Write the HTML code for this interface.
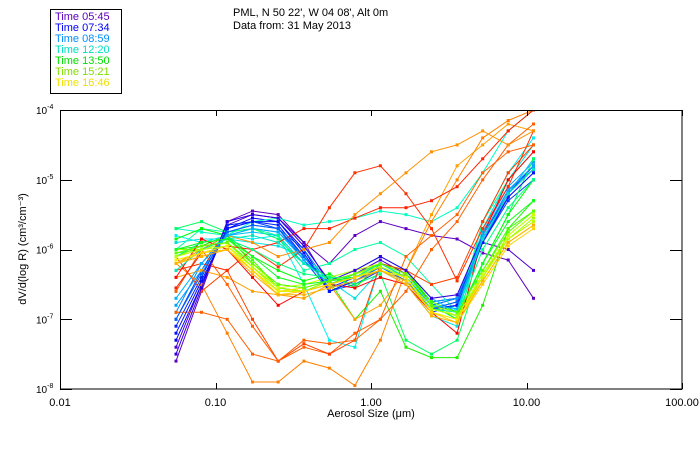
<!DOCTYPE html>
<html><head><meta charset="utf-8"><style>
body{margin:0;background:#fff;}
svg{display:block;font-family:"Liberation Sans",sans-serif;}
</style></head><body>
<svg id="chart" width="700" height="450" viewBox="0 0 700 450">
<rect x="0" y="0" width="700" height="450" fill="#fff"/>
<g>
<rect x="50.5" y="9.5" width="71" height="84" fill="#fff" stroke="#000"/>
<g font-size="11">
<text x="55" y="20" fill="#6000c0">Time 05:45</text>
<text x="55" y="31" fill="#0000ff">Time 07:34</text>
<text x="55" y="42" fill="#0090ff">Time 08:59</text>
<text x="55" y="53" fill="#00e0c0">Time 12:20</text>
<text x="55" y="64" fill="#00e000">Time 13:50</text>
<text x="55" y="75" fill="#80e000">Time 15:21</text>
<text x="55" y="86" fill="#f0e000">Time 16:46</text>
</g></g>
<text x="233" y="16" font-size="11">PML, N 50 22', W 04 08', Alt 0m</text>
<text x="233" y="29" font-size="11">Data from: 31 May 2013</text>
<defs><clipPath id="pc"><rect x="60" y="110" width="622" height="279"/></clipPath></defs>
<g id="series" clip-path="url(#pc)"></g>
<rect x="60.5" y="110.5" width="621.5" height="278.5" fill="none" stroke="#000"/>
<g id="axes"></g>
<text x="371" y="417" font-size="11" text-anchor="middle">Aerosol Size (μm)</text>
<text transform="translate(26,249) rotate(-90)" font-size="11" text-anchor="middle">dV/d(log R) (cm³/cm⁻³)</text>
</svg>
<script>
const sizes=[0.0557,0.0813,0.119,0.173,0.253,0.370,0.540,0.788,1.15,1.68,2.45,3.58,5.23,7.63,11.1];
const xTickValues=[0.01,0.1,1,10,100];
const xTickLabels=["0.01","0.10","1.00","10.00","100.00"];
const yTickExps=[-4,-5,-6,-7,-8];
const seriesColors=["#6000c0","#5000d0","#0000ff","#0020ff","#0040ff","#0080ff","#00a0ff","#00c0ff","#00e0e0","#00f0f0","#00ffc0","#00ffa0","#00ff60","#00ff00","#20f000","#40ff00","#80ff00","#a0ff00","#d0ff00","#ffe000","#ffc000","#ffa000","#ff8000","#ff6000","#ff4000","#ff2000","#ff3000","#ff0000","#ff6000","#ff9000","#3000e0","#0010ff","#0060ff","#00b0ff","#00e8c0","#00ff80","#10ff20","#60ff00","#b8ff00","#f0f000","#ffd000","#ffb000"];
// log10 of dV/dlogR for each series
const s1=[-7.6,-6.6,-5.6,-5.45,-5.5,-5.9,-6.2,-5.8,-5.6,-5.7,-5.8,-5.85,-6.05,-6.15,-6.7];
const s2=[-7.4,-6.5,-5.65,-5.5,-5.55,-5.9,-6.5,-6.35,-6.15,-6.35,-6.75,-6.7,-5.9,-6.0,-6.3];
const s3=[-7.3,-6.5,-5.7,-5.55,-5.6,-6.0,-6.6,-6.45,-6.25,-6.45,-6.85,-6.75,-5.85,-5.25,-4.9];
const s4=[-7.1,-6.4,-5.65,-5.6,-5.65,-6.1,-6.55,-6.4,-6.2,-6.4,-6.8,-6.7,-5.8,-5.2,-4.8];
const s5=[-7.0,-6.3,-5.7,-5.6,-5.7,-6.15,-6.6,-6.5,-6.3,-6.45,-6.9,-6.8,-5.9,-5.3,-5.0];
const s6=[-6.9,-6.2,-5.75,-5.65,-5.7,-6.0,-6.5,-6.4,-6.25,-6.4,-6.8,-6.7,-5.8,-5.15,-4.85];
const s7=[-6.8,-6.3,-5.8,-5.7,-5.75,-6.1,-6.45,-6.35,-6.2,-6.35,-6.75,-6.7,-5.75,-5.1,-4.75];
const s8=[-6.6,-6.0,-5.8,-5.75,-5.8,-6.2,-6.4,-6.3,-6.1,-6.3,-6.7,-6.9,-5.9,-5.2,-4.7];
const s9=[-5.9,-5.85,-5.85,-5.9,-5.95,-6.1,-6.45,-6.7,-6.3,-6.5,-6.95,-7.1,-5.7,-5.0,-4.5];
const s10=[-5.8,-5.9,-5.8,-5.85,-5.8,-6.5,-7.3,-7.4,-6.2,-6.4,-6.8,-7.0,-5.6,-4.9,-4.4];
const s11=[-5.7,-5.75,-5.8,-5.6,-5.55,-5.65,-5.6,-5.55,-5.45,-5.5,-5.6,-5.4,-4.9,-4.3,-4.0];
const s12=[-6.0,-5.7,-5.75,-5.7,-5.8,-6.3,-6.2,-6.0,-5.9,-6.1,-6.5,-6.9,-5.6,-5.0,-4.6];
const s13=[-5.7,-5.6,-5.75,-5.7,-5.85,-6.2,-6.4,-6.5,-6.35,-7.3,-7.5,-7.3,-6.2,-5.5,-4.7];
const s14=[-5.85,-5.7,-5.8,-6.1,-6.3,-6.45,-6.35,-6.55,-6.2,-6.3,-6.8,-7.0,-6.2,-5.5,-5.0];
const s15=[-6.0,-5.95,-5.8,-6.2,-6.5,-6.55,-6.45,-7.0,-6.6,-7.4,-7.55,-7.55,-6.8,-5.7,-5.3];
const s16=[-6.05,-6.0,-5.85,-6.15,-6.55,-6.6,-6.5,-6.35,-6.2,-6.3,-6.75,-6.9,-6.3,-5.7,-5.45];
const s17=[-6.1,-5.95,-5.9,-6.25,-6.55,-6.6,-6.45,-6.35,-6.25,-6.4,-6.85,-6.95,-6.4,-5.8,-5.5];
const s18=[-6.0,-6.0,-5.95,-6.3,-6.6,-6.6,-6.5,-6.4,-6.3,-6.45,-6.9,-7.0,-6.35,-5.85,-5.55];
const s19=[-6.1,-6.0,-5.9,-6.2,-6.55,-6.5,-6.4,-6.3,-6.2,-6.35,-6.8,-6.95,-6.35,-5.8,-5.5];
const s20=[-6.15,-6.05,-5.95,-6.25,-6.6,-6.55,-6.45,-6.35,-6.25,-6.4,-6.85,-6.95,-6.45,-5.9,-5.65];
const s21=[-6.2,-6.1,-6.0,-6.3,-6.6,-6.6,-6.5,-6.4,-6.3,-6.45,-6.9,-7.0,-6.4,-5.85,-5.6];
const s22=[-6.4,-6.3,-6.4,-6.6,-6.65,-6.7,-6.5,-7.0,-6.8,-6.3,-5.5,-4.8,-4.5,-4.2,-4.3];
const s23=[-6.2,-6.5,-7.2,-7.9,-7.9,-7.6,-7.7,-7.95,-7.3,-6.3,-5.6,-5.0,-4.4,-4.15,-4.0];
const s24=[-6.6,-6.0,-6.5,-7.1,-7.6,-7.4,-7.5,-7.2,-7.0,-6.6,-6.0,-5.6,-5.0,-4.5,-4.2];
const s25=[-6.1,-6.6,-6.3,-7.0,-7.6,-7.35,-7.5,-7.3,-6.2,-6.3,-6.5,-6.4,-5.6,-4.9,-4.5];
const s26=[-6.55,-6.05,-5.95,-6.0,-5.9,-5.7,-5.7,-5.55,-5.4,-5.4,-5.3,-5.1,-4.7,-4.3,-4.0];
const s27=[-6.3,-6.2,-6.3,-6.0,-6.25,-6.0,-5.4,-4.9,-4.8,-5.2,-5.7,-6.45,-5.7,-5.1,-4.3];
const s28=[-6.4,-5.85,-6.0,-6.4,-6.8,-6.6,-6.5,-6.55,-6.4,-6.5,-6.9,-7.2,-5.8,-5.0,-4.6];
const s29=[-6.9,-6.9,-7.0,-7.5,-7.6,-7.3,-7.35,-7.3,-7.0,-6.1,-5.8,-5.5,-4.9,-4.6,-4.5];
const s30=[-6.2,-6.0,-5.8,-5.9,-6.1,-6.0,-5.9,-5.5,-5.2,-4.9,-4.6,-4.5,-4.3,-4.5,-4.3];
const s31=[-7.5,-6.55,-5.6,-5.5,-5.55,-5.95,-6.45,-6.3,-6.1,-6.3,-6.7,-6.65,-5.8,-5.15,-4.8];
const s32=[-7.2,-6.45,-5.7,-5.6,-5.6,-6.05,-6.6,-6.45,-6.3,-6.45,-6.85,-6.8,-5.9,-5.25,-4.9];
const s33=[-7.0,-6.35,-5.75,-5.65,-5.7,-6.1,-6.55,-6.45,-6.25,-6.45,-6.85,-6.75,-5.85,-5.2,-4.85];
const s34=[-6.7,-6.2,-5.8,-5.7,-5.75,-6.15,-6.5,-6.4,-6.2,-6.4,-6.8,-6.85,-5.8,-5.15,-4.8];
const s35=[-6.3,-6.0,-5.85,-5.8,-5.9,-6.2,-6.45,-6.4,-6.2,-6.4,-6.85,-6.9,-5.85,-5.2,-4.85];
const s36=[-6.1,-5.9,-5.85,-6.0,-6.2,-6.35,-6.4,-6.4,-6.2,-6.4,-6.85,-6.95,-6.0,-5.4,-5.0];
const s37=[-6.0,-5.9,-5.85,-6.1,-6.4,-6.5,-6.45,-6.4,-6.25,-6.4,-6.85,-6.95,-6.2,-5.6,-5.3];
const s38=[-6.05,-5.95,-5.9,-6.2,-6.5,-6.55,-6.45,-6.35,-6.2,-6.35,-6.8,-6.9,-6.3,-5.75,-5.45];
const s39=[-6.1,-6.0,-5.95,-6.25,-6.6,-6.6,-6.5,-6.4,-6.25,-6.4,-6.85,-6.95,-6.4,-5.85,-5.6];
const s40=[-6.15,-6.05,-5.95,-6.3,-6.6,-6.6,-6.5,-6.4,-6.3,-6.4,-6.9,-7.0,-6.45,-5.9,-5.65];
const s41=[-6.2,-6.05,-6.0,-6.3,-6.65,-6.6,-6.5,-6.4,-6.3,-6.45,-6.9,-7.05,-6.5,-5.95,-5.7];
const s42=[-6.2,-6.1,-6.0,-6.35,-6.65,-6.65,-6.55,-6.45,-6.3,-6.5,-6.95,-7.05,-6.45,-5.9,-5.65];
const seriesLogValues=[s1,s2,s3,s4,s5,s6,s7,s8,s9,s10,s11,s12,s13,s14,s15,s16,s17,s18,s19,s20,s21,s22,s23,s24,s25,s26,s27,s28,s29,s30,s31,s32,s33,s34,s35,s36,s37,s38,s39,s40,s41,s42];

const X0=60,X1=682,Y0=110,Y1=389;
function xScale(v){return X0+(Math.log10(v)+2)/4*(X1-X0);}
function yScale(e){return Y0+(-4-e)/4*(Y1-Y0);}
const NS="http://www.w3.org/2000/svg";
const g=document.getElementById('series');
seriesLogValues.forEach((vals,i)=>{
  const col=seriesColors[i%seriesColors.length];
  const pl=document.createElementNS(NS,'polyline');
  
  
  pl.setAttribute('points',vals.map((v,j)=>xScale(sizes[j]).toFixed(1)+','+yScale(v).toFixed(1)).join(' '));
  pl.setAttribute('fill','none');pl.setAttribute('stroke',col);pl.setAttribute('stroke-width','1');
  g.appendChild(pl);
  vals.forEach((v,j)=>{
    const r=document.createElementNS(NS,'rect');
    
    
    r.setAttribute('x',(xScale(sizes[j])-1.5).toFixed(1));r.setAttribute('y',(yScale(v)-1.5).toFixed(1));
    r.setAttribute('width','3');r.setAttribute('height','3');r.setAttribute('fill',col);
    g.appendChild(r);
  });
});
const ax=document.getElementById('axes');
xTickValues.forEach((v,i)=>{
  const x=Math.round(xScale(v))+0.5;
  [[Y1,Y1-6],[Y0,Y0+6]].forEach(([a,b])=>{
    const l=document.createElementNS(NS,'line');
    
    
    l.setAttribute('x1',x);l.setAttribute('x2',x);l.setAttribute('y1',a);l.setAttribute('y2',b);l.setAttribute('stroke','#000');
    ax.appendChild(l);
  });
  const t=document.createElementNS(NS,'text');
  
  
  t.setAttribute('x',xScale(v));t.setAttribute('y',406);t.setAttribute('font-size','11');t.setAttribute('text-anchor','middle');
  t.textContent=xTickLabels[i];ax.appendChild(t);
});
yTickExps.forEach(e=>{
  const y=Math.round(yScale(e))+0.5;
  [[X0,X0+12],[X1,X1-12]].forEach(([a,b])=>{
    const l=document.createElementNS(NS,'line');
    
    
    l.setAttribute('x1',a);l.setAttribute('x2',b);l.setAttribute('y1',y);l.setAttribute('y2',y);l.setAttribute('stroke','#000');
    ax.appendChild(l);
  });
  const t=document.createElementNS(NS,'text');
  
  
  t.setAttribute('x',36);t.setAttribute('y',yScale(e)+4);t.setAttribute('font-size','10');
  t.innerHTML='10<tspan dy="-5" font-size="7">'+e+'</tspan>';
  ax.appendChild(t);
});
</script>
</body></html>
